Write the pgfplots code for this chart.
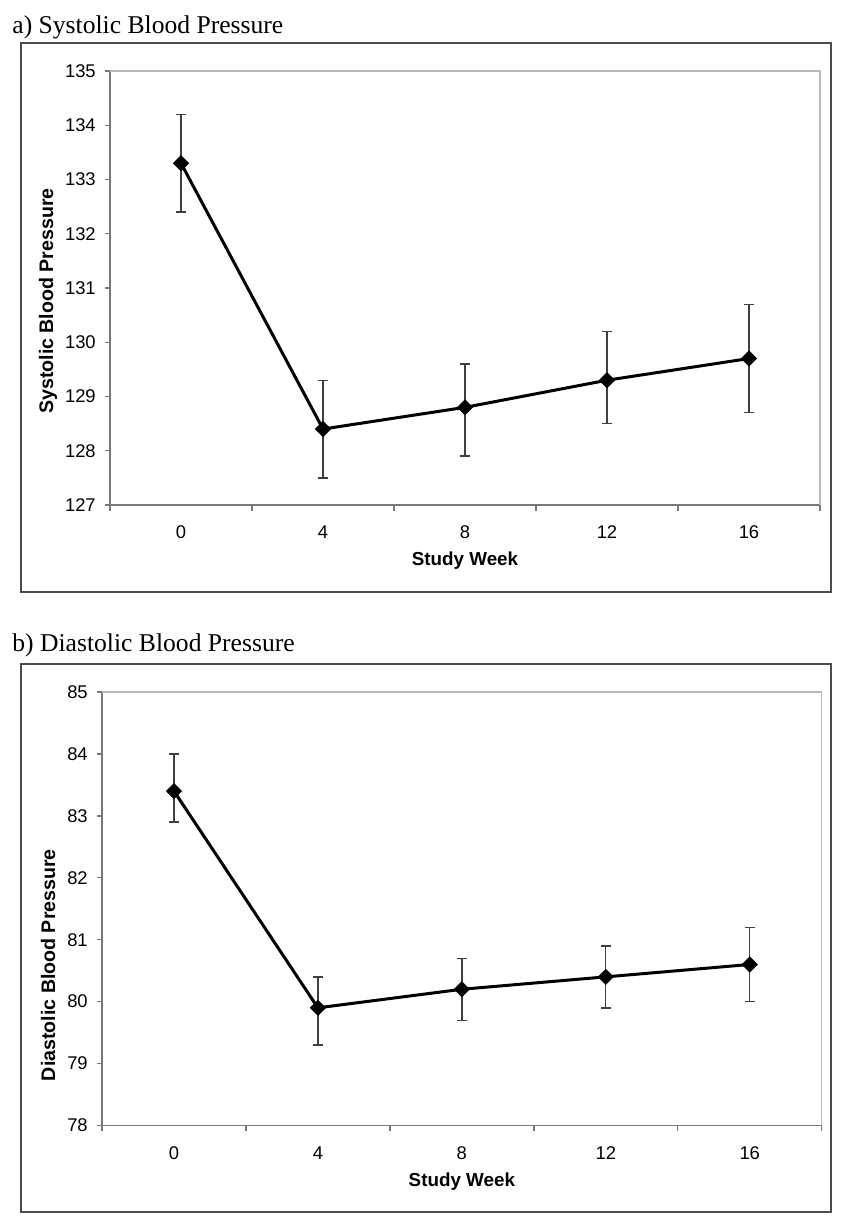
\documentclass[border=0pt]{standalone}
\usepackage{fontspec}
\setmainfont{Liberation Serif}
\newfontfamily\arial{Liberation Sans}
\usepackage{pgfplots}
\pgfplotsset{compat=1.18}
\usepackage{pgfplotstable}

\pgfplotstableread{
x y ep em
0.5 133.3 0.9 0.9
1.5 128.4 0.9 0.9
2.5 128.8 0.8 0.9
3.5 129.3 0.9 0.8
4.5 129.7 1.0 1.0
}\sbp

\pgfplotstableread{
x y ep em
0.5 83.4 0.6 0.5
1.5 79.9 0.5 0.6
2.5 80.2 0.5 0.5
3.5 80.4 0.5 0.5
4.5 80.6 0.6 0.6
}\dbp

\pgfplotsset{
  bp/.style={
    scale only axis,
    axis lines=left,
    axis line style={-, draw=gray!95!black, line width=0.75pt},
    xmin=0, xmax=5,
    enlargelimits=false,
    clip=false,
    tick align=outside,
    major tick length=2.6pt,
    minor tick length=3pt,
    xtick={0.5,1.5,2.5,3.5,4.5},
    xticklabels={0,4,8,12,16},
    minor xtick={0,1,2,3,4,5},
    major x tick style={draw=none},
    minor x tick style={draw=gray!95!black, line width=0.7pt},
    ytick style={draw=gray!95!black, line width=0.7pt},
    /pgf/number format/assume math mode=true,
    ticklabel style={font=\arial\fontsize{9.2}{11}\selectfont, text=black},
    yticklabel style={xshift=-1.0pt},
    xticklabel style={anchor=north, yshift=-4.0pt, text height=6.8pt, text depth=0pt},
    xlabel={Study Week},
    xlabel style={at={(axis description cs:0.5,0)}, anchor=center, yshift=-28pt, font=\arial\bfseries\fontsize{9.4}{11}\selectfont},
    ylabel style={anchor=center, font=\arial\bfseries\fontsize{9.8}{11}\selectfont},
  },
  bpline/.style={
    black, line width=1.5pt,
    mark=square*, mark size=2.7pt,
    mark options={rotate=45, solid, line width=0.3pt, fill=black},
    error bars/.cd, y dir=both, y explicit,
    error bar style={line width=0.7pt, black!75},
    error mark options={rotate=90, mark size=2.5pt, line width=0.7pt, black!75},
  }
}

\begin{document}
\begin{tikzpicture}
\path[use as bounding box] (0,0) rectangle (422pt,-613pt);

% Panel a
\draw[black!70, line width=1pt] (10.5pt,-21.5pt) rectangle (415.5pt,-296pt);
\node[anchor=base west, inner sep=0pt, font=\fontsize{12.8}{15}\selectfont] at (6pt,-16.5pt) {a) Systolic Blood Pressure};
\begin{axis}[bp,
  at={(55pt,-35.5pt)}, anchor=north west,
  width=355pt, height=217pt,
  ymin=127, ymax=135, ytick={127,128,...,135},
  ylabel={Systolic Blood Pressure},
  ylabel style={at={(axis description cs:-0.0873,0.47)}},
]
\draw[gray!55, line width=0.7pt] (rel axis cs:0,1) -- (rel axis cs:1,1) -- (rel axis cs:1,0);
\addplot[bpline] table[x=x, y=y, y error plus=ep, y error minus=em] {\sbp};
\end{axis}

% Panel b
\draw[black!70, line width=1pt] (10.5pt,-332pt) rectangle (415.5pt,-606pt);
\node[anchor=base west, inner sep=0pt, font=\fontsize{12.8}{15}\selectfont] at (6pt,-325.5pt) {b) Diastolic Blood Pressure};
\begin{axis}[bp,
  at={(51pt,-346pt)}, anchor=north west,
  width=359.85pt, height=216.75pt,
  ymin=78, ymax=85, ytick={78,79,...,85},
  ylabel={Diastolic Blood Pressure},
  ylabel style={at={(axis description cs:-0.075,0.37)}},
]
\draw[gray!55, line width=0.7pt] (rel axis cs:0,1) -- (rel axis cs:1,1) -- (rel axis cs:1,0);
\addplot[bpline] table[x=x, y=y, y error plus=ep, y error minus=em] {\dbp};
\end{axis}
\end{tikzpicture}
\end{document}
